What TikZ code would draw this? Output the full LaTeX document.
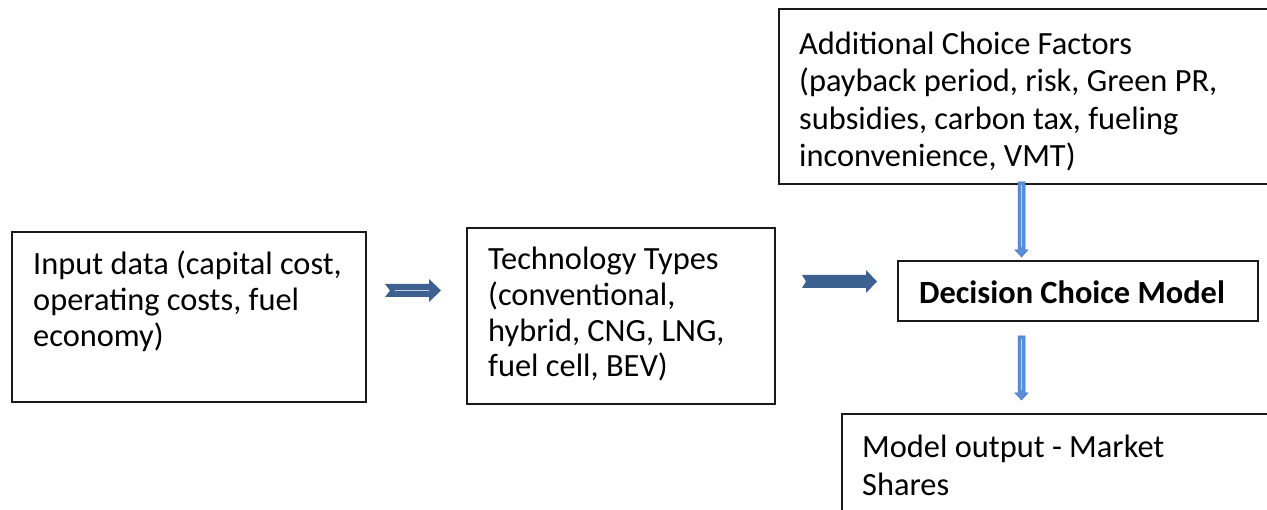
\documentclass[tikz,border=0pt]{standalone}
\usepackage{fontspec}
\setmainfont{Carlito}
\definecolor{darkarrow}{HTML}{3C6191}
\definecolor{lightarrow}{HTML}{5B8ED6}
\definecolor{lightedge}{HTML}{4472C4}
\definecolor{boxline}{HTML}{1A1A1A}
\begin{document}
\begin{tikzpicture}[x=1pt,y=-1pt,
  box/.style={draw=boxline,line width=1.7pt,rectangle,inner sep=0pt},
  label/.style={anchor=base west,align=left,inner sep=0pt,font=\fontsize{32.4}{36}\selectfont},
  blockarrow/.style={fill=darkarrow,draw=none},
  thinarrow/.style={fill=lightarrow,draw=lightedge,line width=0.5pt}]
\clip (0,0) rectangle (1267,510);
\fill[white] (0,0) rectangle (1267,510);
% boxes
\node[box,minimum width=354pt,minimum height=170pt] (b1) at (189,317) {};
\node[box,minimum width=308pt,minimum height=176pt] (b2) at (621,316) {};
\node[box,minimum width=521pt,minimum height=175pt] (b3) at (1039.5,96.5) {};
\node[box,minimum width=360pt,minimum height=60pt] (b4) at (1078,291) {};
\node[box,minimum width=458pt,minimum height=116pt] (b5) at (1071,472) {};
% texts (base anchor = baseline of last line)
\node[label] (t1) at (33,347) {Input data (capital cost,\\operating costs, fuel\\economy)};
\node[label,font=\fontsize{32.4}{35.7}\selectfont] (t2) at (488,377) {Technology Types\\(conventional,\\hybrid, CNG, LNG,\\fuel cell, BEV)};
\node[label,font=\fontsize{32.4}{37.5}\selectfont] (t3) at (799,167) {Additional Choice Factors\\(payback period, risk, Green PR,\\subsidies, carbon tax, fueling\\inconvenience, VMT)};
\node[label,font=\fontsize{32.4}{36}\selectfont\bfseries] (t4) at (919,304) {Decision Choice Model};
\node[label,font=\fontsize{32.4}{39}\selectfont] (t5) at (862,496) {Model output - Market\\Shares};
% block arrows between boxes
\coordinate (a1) at (385,290.5);
\coordinate (a2) at (802,281.5);
\fill[blockarrow] (a1) ++(0,-6.5) -- ++(44,0) -- ++(0,-5) -- ++(12,11.5) -- ++(-12,11.5) -- ++(0,-5) -- ++(-44,0) -- ++(5,-6.5) -- cycle;
\draw[white!70!darkarrow,line width=0.8pt] (a1) ++(10,0) -- ++(34,0);
\fill[blockarrow] (a2) ++(0,-6.5) -- ++(64,0) -- ++(0,-5) -- ++(11,11.5) -- ++(-11,11.5) -- ++(0,-5) -- ++(-64,0) -- ++(4,-6.5) -- cycle;
% thin down arrows
\coordinate (d1) at (1021.5,182);
\coordinate (d2) at (1021.5,336);
\filldraw[thinarrow] (d1) ++(-3.5,0) -- ++(7,0) -- ++(0,68) -- ++(3,0) -- ++(-6.5,7) -- ++(-6.5,-7) -- ++(3,0) -- cycle;
\draw[white!60!lightarrow,line width=0.8pt] (d1) ++(0,3) -- ++(0,62);
\filldraw[thinarrow] (d2) ++(-3.5,0) -- ++(7,0) -- ++(0,57) -- ++(3,0) -- ++(-6.5,7) -- ++(-6.5,-7) -- ++(3,0) -- cycle;
\draw[white!60!lightarrow,line width=0.8pt] (d2) ++(0,3) -- ++(0,51);
\end{tikzpicture}
\end{document}
